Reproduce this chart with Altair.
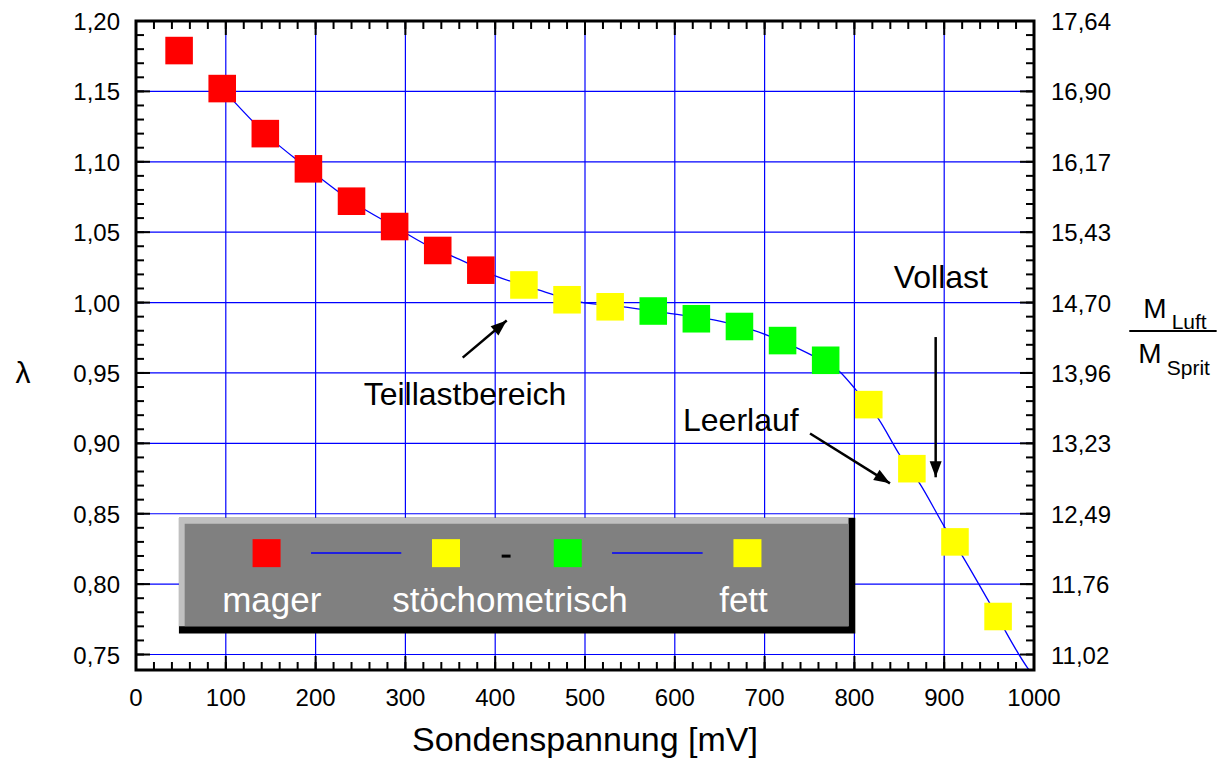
import altair as alt
import pandas as pd

# ---------------- data ----------------
sonden_mv = [48, 96, 144, 192, 240, 288, 336, 384, 432, 480,
             528, 576, 624, 672, 720, 768, 816, 864, 912, 960]
lambda_vals = [1.179, 1.152, 1.120, 1.095, 1.072, 1.054, 1.037, 1.023, 1.0125, 1.002,
               0.997, 0.994, 0.9885, 0.983, 0.973, 0.959, 0.9275, 0.882, 0.830, 0.777]
point_colors = ["#FF0000"] * 8 + ["#FFFF00"] * 3 + ["#00FF00"] * 5 + ["#FFFF00"] * 4

fit_mv = [96, 144, 192, 240, 288, 336, 352, 400, 448, 494, 543, 600, 650, 687,
          717, 754, 784, 801, 827, 851, 873, 900, 921, 951, 992, 994]
fit_lambda = [1.152, 1.120, 1.095, 1.072, 1.054, 1.037, 1.033, 1.019, 1.009, 1.0005,
              0.997, 0.9918, 0.9868, 0.9805, 0.9732, 0.9621, 0.9507, 0.9385, 0.9172,
              0.8912, 0.8712, 0.8410, 0.8192, 0.7862, 0.7413, 0.7395]

x_major_ticks = [0, 100, 200, 300, 400, 500, 600, 700, 800, 900, 1000]
x_tick_labels = ["0", "100", "200", "300", "400", "500", "600", "700", "800", "900", "1000"]
x_minor_ticks = list(range(0, 1001, 20))
y_major_ticks = [0.75, 0.80, 0.85, 0.90, 0.95, 1.00, 1.05, 1.10, 1.15, 1.20]
y_minor_ticks = [round(0.75 + 0.01 * i, 2) for i in range(46)]
left_labels = ["0,75", "0,80", "0,85", "0,90", "0,95",
               "1,00", "1,05", "1,10", "1,15", "1,20"]
right_labels = ["11,02", "11,76", "12,49", "13,23", "13,96",
                "14,70", "15,43", "16,17", "16,90", "17,64"]
grid_x = [100, 200, 300, 400, 500, 600, 700, 800, 900]
grid_y = [0.75, 0.80, 0.85, 0.90, 0.95, 1.00, 1.05, 1.10, 1.15]

x_title = "Sondenspannung [mV]"
x_title_pos = [500]
y_title = "λ"
y_title_pos = {"x": [-125.8], "y": [0.9493]}

legend_box_x = [47.8, 47.8, 54.2]
legend_box_x2 = [801.0, 793.5, 793.5]
legend_box_y = [0.8471, 0.8471, 0.8429]
legend_box_y2 = [0.7650, 0.7701, 0.7701]
legend_box_colors = ["#000000", "#C0C0C0", "#808080"]

legend_sq_x = [145.4, 345.2, 480.8, 680.9]
legend_sq_y = [0.822, 0.822, 0.822, 0.822]
legend_sq_colors = ["#FF0000", "#FFFF00", "#00FF00", "#FFFF00"]
legend_line_x = [194.9, 530.1]
legend_line_x2 = [295.4, 631.0]
legend_line_y = [0.8221, 0.8221]
legend_dash = {"x": [407.2], "x2": [417.1], "y": [0.8199]}
legend_texts = ["mager", "stöchometrisch", "fett"]
legend_text_x = [151.2, 416.5, 676.5]
legend_text_y = [0.7803, 0.7803, 0.7803]

annot_texts = ["Teillastbereich", "Leerlauf", "Vollast"]
annot_x = [366.4, 673.5, 896.2]
annot_y = [0.9274, 0.9089, 1.0100]

arrow_x = [363.8, 750.6, 890.5]
arrow_y = [0.9609, 0.9070, 0.9755]
arrow_x2 = [412.8, 839.6, 890.5]
arrow_y2 = [0.9873, 0.8716, 0.8759]
arrow_angle = [49.6, 122.0, 180.0]

frac_text = ["M", "Luft", "M", "Sprit"]
frac_x = [1121.7, 1153.3, 1116.1, 1147.8]
frac_y = [0.9892, 0.9810, 0.9573, 0.9486]
frac_size = [28, 21, 28, 21]
frac_line = {"x": [1106.1], "x2": [1203.4], "y": [0.9798]}

# ---------------- chart ----------------
W, H = 898, 649
FONT = "Liberation Sans"
BLUE = "#0000FF"
xs = alt.Scale(domain=[0, 1000], nice=False, zero=False)
ys = alt.Scale(domain=[0.739, 1.20], nice=False, zero=False)


def X(f="x"):
    return alt.X(f"{f}:Q", scale=xs, axis=None)


def Y(f="y"):
    return alt.Y(f"{f}:Q", scale=ys, axis=None)


grid_v = alt.Chart(pd.DataFrame({"x": grid_x})).mark_rule(
    color=BLUE, strokeWidth=1.2).encode(x=X())
grid_h = alt.Chart(pd.DataFrame({"y": grid_y})).mark_rule(
    color=BLUE, strokeWidth=1.2).encode(y=Y())

fit = alt.Chart(pd.DataFrame({"mv": fit_mv, "lam": fit_lambda})).mark_line(
    color=BLUE, strokeWidth=1.3, interpolate="monotone").encode(x=X("mv"), y=Y("lam"))

points = alt.Chart(pd.DataFrame({"mv": sonden_mv, "lam": lambda_vals, "c": point_colors})).mark_square(
    size=760, opacity=1, strokeWidth=0).encode(
    x=X("mv"), y=Y("lam"), color=alt.Color("c:N", scale=None))

box = alt.Chart(pd.DataFrame({"x": legend_box_x, "x2": legend_box_x2, "y": legend_box_y,
                              "y2": legend_box_y2, "c": legend_box_colors})).mark_rect().encode(
    x=X(), x2="x2:Q", y=Y(), y2="y2:Q", color=alt.Color("c:N", scale=None))

leg_sq = alt.Chart(pd.DataFrame({"x": legend_sq_x, "y": legend_sq_y, "c": legend_sq_colors})).mark_square(
    size=784, opacity=1, strokeWidth=0).encode(x=X(), y=Y(), color=alt.Color("c:N", scale=None))
leg_lines = alt.Chart(pd.DataFrame({"x": legend_line_x, "x2": legend_line_x2, "y": legend_line_y})).mark_rule(
    color=BLUE, strokeWidth=1.3).encode(x=X(), x2="x2:Q", y=Y())
leg_dash = alt.Chart(pd.DataFrame(legend_dash)).mark_rule(color="black", strokeWidth=3).encode(
    x=X(), x2="x2:Q", y=Y())
leg_text = alt.Chart(pd.DataFrame({"x": legend_text_x, "y": legend_text_y, "t": legend_texts})).mark_text(
    font=FONT, fontSize=35, color="white", align="center", baseline="alphabetic").encode(
    x=X(), y=Y(), text="t:N")

annot = alt.Chart(pd.DataFrame({"x": annot_x, "y": annot_y, "t": annot_texts})).mark_text(
    font=FONT, fontSize=32, color="black", align="center", baseline="alphabetic").encode(
    x=X(), y=Y(), text="t:N")

arrow_df = pd.DataFrame({"x": arrow_x, "y": arrow_y, "x2": arrow_x2, "y2": arrow_y2, "a": arrow_angle})
arrow_lines = alt.Chart(arrow_df).mark_rule(color="black", strokeWidth=2.5).encode(
    x=X(), x2="x2:Q", y=Y(), y2="y2:Q")
arrow_heads = alt.Chart(arrow_df).mark_point(
    shape="M0,0L0.6,1.6L-0.6,1.6Z", size=400, filled=True, color="black", opacity=1,
    strokeWidth=0).encode(x=X("x2"), y=Y("y2"), angle=alt.Angle("a:Q", scale=None))


def hticks(vals, x0, x1):
    return alt.Chart(pd.DataFrame({"y": vals})).mark_rule(color="black", strokeWidth=2).encode(
        y=Y(), x=alt.value(x0), x2=alt.value(x1))


def vticks(vals, y0, y1):
    return alt.Chart(pd.DataFrame({"x": vals})).mark_rule(color="black", strokeWidth=2).encode(
        x=X(), y=alt.value(y0), y2=alt.value(y1))


ticks = [
    hticks(y_minor_ticks, 0, 8), hticks(y_major_ticks, 0, 14),
    hticks(y_minor_ticks, W - 8, W), hticks(y_major_ticks, W - 14, W),
    vticks(x_minor_ticks, 0, 8), vticks(x_major_ticks, 0, 14),
    vticks(x_minor_ticks, H - 8, H), vticks(x_major_ticks, H - 14, H),
]

frame = alt.Chart(pd.DataFrame({"k": [0]})).mark_rect(
    fill="transparent", stroke="black", strokeWidth=3).encode(
    x=alt.value(0), x2=alt.value(W), y=alt.value(0), y2=alt.value(H))

left_lab = alt.Chart(pd.DataFrame({"y": y_major_ticks, "t": left_labels})).mark_text(
    font=FONT, fontSize=24, color="black", align="right", baseline="alphabetic", dy=9).encode(
    y=Y(), x=alt.value(-16), text="t:N")
right_lab = alt.Chart(pd.DataFrame({"y": y_major_ticks, "t": right_labels})).mark_text(
    font=FONT, fontSize=24, color="black", align="left", baseline="alphabetic", dy=9).encode(
    y=Y(), x=alt.value(W + 17), text="t:N")
bottom_lab = alt.Chart(pd.DataFrame({"x": x_major_ticks, "t": x_tick_labels})).mark_text(
    font=FONT, fontSize=24, color="black", align="center", baseline="alphabetic").encode(
    x=X(), y=alt.value(H + 36), text="t:N")
x_title_mark = alt.Chart(pd.DataFrame({"x": x_title_pos, "t": [x_title]})).mark_text(
    font=FONT, fontSize=34, color="black", align="center", baseline="alphabetic").encode(
    x=X(), y=alt.value(H + 81), text="t:N")
y_title_mark = alt.Chart(pd.DataFrame({"x": y_title_pos["x"], "y": y_title_pos["y"], "t": [y_title]})).mark_text(
    font=FONT, fontSize=30, color="black", align="center", baseline="middle").encode(
    x=X(), y=Y(), text="t:N")

frac = alt.Chart(pd.DataFrame({"x": frac_x, "y": frac_y, "t": frac_text, "s": frac_size})).mark_text(
    font=FONT, color="black", align="left", baseline="alphabetic").encode(
    x=X(), y=Y(), text="t:N", size=alt.Size("s:Q", scale=None))
frac_rule = alt.Chart(pd.DataFrame(frac_line)).mark_rule(color="black", strokeWidth=2).encode(
    x=X(), x2="x2:Q", y=Y())

chart = alt.layer(
    grid_v, grid_h, fit, points, box, leg_sq, leg_lines, leg_dash, leg_text,
    annot, arrow_lines, arrow_heads, *ticks, frame,
    left_lab, right_lab, bottom_lab, x_title_mark, y_title_mark, frac, frac_rule
).properties(
    width=W, height=H,
    padding={"left": 128, "top": 13, "right": 183, "bottom": 89},
    autosize=alt.AutoSizeParams(type="none"),
    background="white",
).configure_view(stroke=None)

chart.save("out.html", embed_options={"renderer": "svg", "actions": False})
